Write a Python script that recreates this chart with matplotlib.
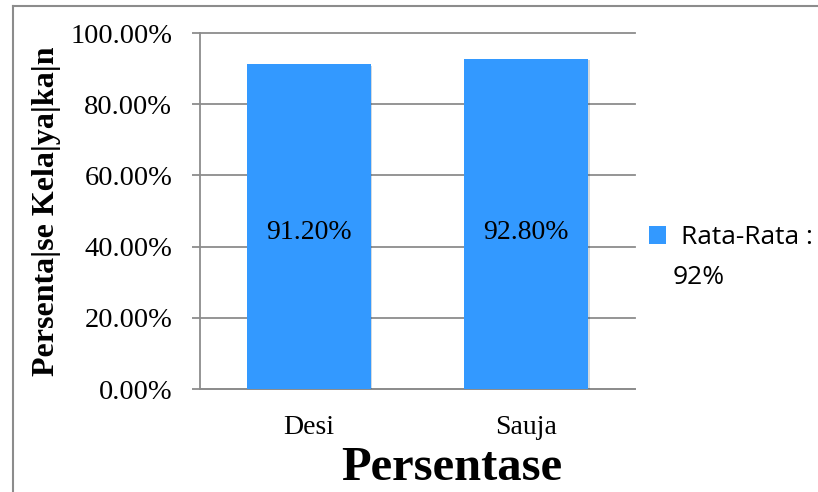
import matplotlib.pyplot as plt
import matplotlib.patheffects as pe
from matplotlib.lines import Line2D
from matplotlib.patches import Patch

names = ["Desi", "Sauja"]
scores = [91.20, 92.80]
avg_label = "Rata-Rata :"
avg_value = 92
y_ticks = [0, 20, 40, 60, 80, 100]

bar_color = "#3399FF"
grid_color = "#8C8C8C"

fig = plt.figure(figsize=(8.18, 4.92), dpi=100)
ax = fig.add_axes([0.2445, 0.2093, 0.5318, 0.7236])

x = range(len(names))
bars = ax.bar(x, scores, width=0.57, color=bar_color, zorder=3)
for b in bars:
    b.set_path_effects([pe.SimplePatchShadow(offset=(1.2, -1.2), alpha=0.18), pe.Normal()])
for i, v in zip(x, scores):
    ax.text(i, 44, f"{v:.2f}%", ha="center", va="center",
            family="Liberation Serif", fontsize=20, zorder=4)

ax.set_xlim(-0.5, len(names) - 0.5)
ax.set_ylim(0, 100)
ax.set_yticks(y_ticks)
ax.set_yticklabels([f"{t:.2f}%" for t in y_ticks], family="Liberation Serif", fontsize=20.5)
ax.set_xticks(list(x))
ax.set_xticklabels(names, family="Liberation Serif", fontsize=20)
ax.tick_params(axis="x", length=0, pad=19)
ax.tick_params(axis="y", length=6, width=1.3, color=grid_color, pad=14)
ax.yaxis.grid(True, color=grid_color, linewidth=1.3, zorder=0)
for g in ax.get_ygridlines():
    g.set_clip_on(False)
for s in ["top", "right"]:
    ax.spines[s].set_visible(False)
for s in ["left", "bottom"]:
    ax.spines[s].set_color(grid_color)
    ax.spines[s].set_linewidth(1.3)

ax.set_ylabel("Persenta|se Kela|ya|ka|n", family="Liberation Serif",
              fontweight="bold", fontsize=23)
ax.yaxis.set_label_coords(-0.32, 0.5)
ax.set_xlabel("Persentase", family="Liberation Serif", fontweight="bold",
              fontsize=35)
ax.xaxis.set_label_coords(0.579, -0.161)

handle = Patch(facecolor=bar_color)
fig.legend([handle], [avg_label], loc="center left",
           bbox_to_anchor=(0.7934, 0.5163), frameon=False,
           borderaxespad=0, borderpad=0,
           prop={"family": "Open Sans", "size": 19},
           handlelength=0.65, handleheight=0.65, handletextpad=0.55)
fig.text(673 / 818, 1 - 277 / 492, f"{avg_value}%", ha="left", va="center",
         family="Open Sans", fontsize=19)

# outer frame (top and left only visible)
fig.add_artist(Line2D([0.016, 1.0], [0.988, 0.988], transform=fig.transFigure,
                      color=grid_color, linewidth=1.5))
fig.add_artist(Line2D([0.016, 0.016], [0.0, 0.988], transform=fig.transFigure,
                      color=grid_color, linewidth=1.5))

fig.savefig("out.png", dpi=100)
